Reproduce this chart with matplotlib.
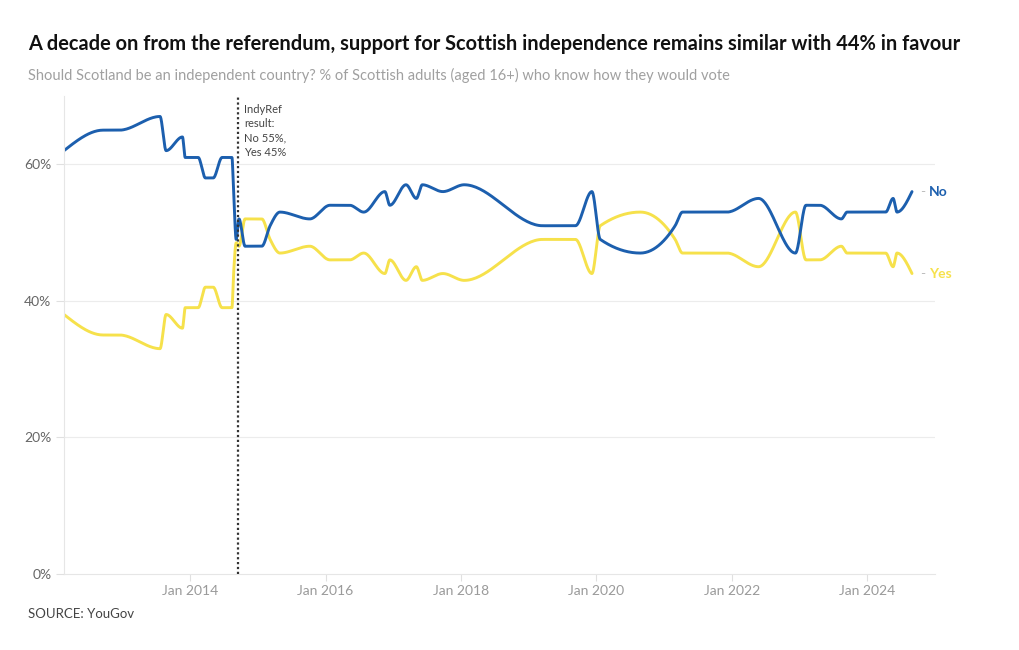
import numpy as np
import matplotlib
matplotlib.use("Agg")
import matplotlib.pyplot as plt
import matplotlib.dates as mdates
from datetime import datetime

plt.rcParams['font.family'] = ['Lato', 'DejaVu Sans']

dates = ["2012-02-20", "2012-09-18", "2012-12-15", "2013-07-22", "2013-08-24",
         "2013-11-20", "2013-12-05", "2014-02-13", "2014-03-24", "2014-05-05",
         "2014-06-22", "2014-08-14", "2014-08-23", "2014-09-06", "2014-09-21",
         "2014-10-24", "2015-01-22", "2015-03-08", "2015-04-30", "2015-10-08",
         "2016-01-25", "2016-05-10", "2016-07-25", "2016-11-16", "2016-12-13",
         "2017-03-10", "2017-05-05", "2017-06-06", "2017-09-25", "2018-01-18",
         "2019-03-18", "2019-09-10", "2019-12-08", "2020-01-22", "2020-08-25",
         "2021-03-01", "2021-04-10", "2021-12-05", "2022-05-25", "2022-12-10",
         "2023-02-05", "2023-04-20", "2023-08-15", "2023-09-15", "2024-04-10",
         "2024-05-20", "2024-06-10", "2024-08-30"]
no_vals = [62, 65, 65, 67, 62, 64, 61, 61, 58, 58,
           61, 61, 56, 49, 52, 48, 48, 51, 53, 52,
           54, 54, 53, 56, 54, 57, 55, 57, 56, 57,
           51, 51, 56, 49, 47, 51, 53, 53, 55, 47,
           54, 54, 52, 53, 53, 55, 53, 56]
yes_vals = [38, 35, 35, 33, 38, 36, 39, 39, 42, 42,
            39, 39, 44, 48.5, 48, 52, 52, 49, 47, 48,
            46, 46, 47, 44, 46, 43, 45, 43, 44, 43,
            49, 49, 44, 51, 53, 49, 47, 47, 45, 53,
            46, 46, 48, 47, 47, 45, 47, 44]
yticks = [0, 20, 40, 60]
xtick_years = [2014, 2016, 2018, 2020, 2022, 2024]
referendum = "2014-09-18"

BLUE = "#1c5fae"
YELLOW = "#f6e14b"


def monotone(x, y, n=40):
    x = np.asarray(x, float); y = np.asarray(y, float)
    h = np.diff(x); s = np.diff(y) / h
    t = np.zeros_like(y)
    for i in range(1, len(x) - 1):
        s0, s1 = s[i - 1], s[i]
        p = (s0 * h[i] + s1 * h[i - 1]) / (h[i - 1] + h[i])
        t[i] = (np.sign(s0) + np.sign(s1)) * min(abs(s0), abs(s1), 0.5 * abs(p))
    t[0] = (3 * s[0] - t[1]) / 2
    t[-1] = (3 * s[-1] - t[-2]) / 2
    xs, ys = [], []
    for i in range(len(x) - 1):
        u = np.linspace(0, 1, n, endpoint=(i == len(x) - 2))
        h00 = 2 * u**3 - 3 * u**2 + 1
        h10 = u**3 - 2 * u**2 + u
        h01 = -2 * u**3 + 3 * u**2
        h11 = u**3 - u**2
        xs.append(x[i] + u * h[i])
        ys.append(h00 * y[i] + h10 * h[i] * t[i] + h01 * y[i + 1] + h11 * h[i] * t[i + 1])
    return np.concatenate(xs), np.concatenate(ys)


xd = mdates.date2num([datetime.strptime(d, "%Y-%m-%d") for d in dates])

fig = plt.figure(figsize=(10.2, 6.5), dpi=100)
ax = fig.add_axes([64 / 1020, 1 - 574 / 650, (935 - 64) / 1020, (574 - 96) / 650])

for s in ["top", "right"]:
    ax.spines[s].set_visible(False)
ax.spines["left"].set_color("#e6e6e6")
ax.spines["bottom"].set_color("#e6e6e6")

ax.set_ylim(0, 70)
ax.set_yticks(yticks)
ax.set_yticklabels([f"{v}%" for v in yticks])
for v in yticks[1:]:
    ax.axhline(v, color="#ececec", lw=0.8, zorder=0)

ax.set_xlim(xd[0], mdates.date2num(datetime(2025, 1, 1)))
ax.set_xticks(mdates.date2num([datetime(y, 1, 1) for y in xtick_years]))
ax.set_xticklabels([f"Jan {y}" for y in xtick_years])
ax.tick_params(axis="x", colors="#e0e0e0", labelcolor="#9a9a9a", labelsize=10, length=5, pad=3)
ax.tick_params(axis="y", colors="#e0e0e0", labelcolor="#666666", labelsize=10, length=6, pad=3)

xr = mdates.date2num(datetime.strptime(referendum, "%Y-%m-%d"))
ax.axvline(xr, color="#333333", lw=1.6, ls=(0, (1, 1.2)), zorder=3)
ax.text(xr + 32, 68.8, "IndyRef\nresult:\nNo 55%,\nYes 45%", fontsize=8, color="#444444",
        va="top", ha="left", linespacing=1.35)

xs, ys = monotone(xd, yes_vals)
ax.plot(xs, ys, color=YELLOW, lw=2.1, solid_capstyle="round", zorder=2)
xs, ys = monotone(xd, no_vals)
ax.plot(xs, ys, color=BLUE, lw=2.1, solid_capstyle="round", zorder=2)

ax.annotate("-", (xd[-1], no_vals[-1]), xytext=(6, 0), textcoords="offset points",
            color="#bbbbbb", fontsize=10, va="center", ha="left")
ax.annotate("No", (xd[-1], no_vals[-1]), xytext=(12, 0), textcoords="offset points",
            color=BLUE, fontsize=10, fontweight="bold", va="center", ha="left")
ax.annotate("-", (xd[-1], yes_vals[-1]), xytext=(6, 0), textcoords="offset points",
            color="#bbbbbb", fontsize=10, va="center", ha="left")
ax.annotate("Yes", (xd[-1], yes_vals[-1]), xytext=(12, 0), textcoords="offset points",
            color=YELLOW, fontsize=10, fontweight="bold", va="center", ha="left")

fig.text(28 / 1020, 1 - 44 / 650, "A decade on from the referendum, support for Scottish independence remains similar with 44% in favour",
         fontsize=14.45, fontweight="bold", color="#111111", va="center", ha="left")
fig.text(28 / 1020, 1 - 75 / 650, "Should Scotland be an independent country? % of Scottish adults (aged 16+) who know how they would vote",
         fontsize=10.5, color="#a0a0a0", va="center", ha="left")
fig.text(28 / 1020, 1 - 614 / 650, "SOURCE: YouGov", fontsize=9.5, color="#444444", va="center", ha="left")

fig.savefig("out.png", dpi=100, facecolor="white")
